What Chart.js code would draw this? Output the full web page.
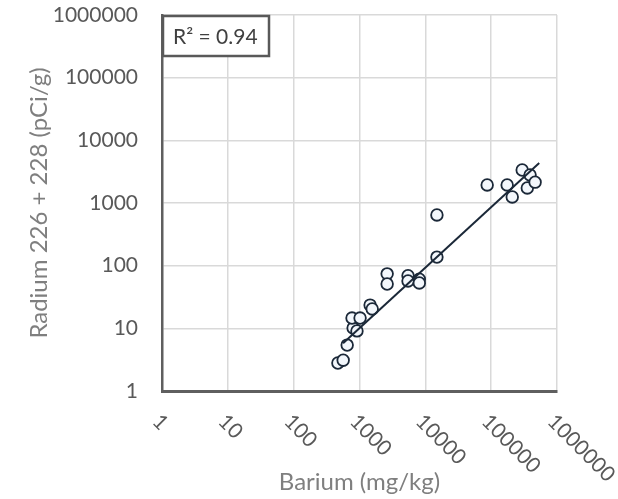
<!DOCTYPE html>
<html>
<head>
<meta charset="utf-8">
<script src="https://cdn.jsdelivr.net/npm/chart.js@4.4.1/dist/chart.umd.min.js"></script>
<style>
  html, body { margin: 0; padding: 0; background: #fff; }
  #wrap { width: 618px; height: 499px; }
</style>
</head>
<body>
<div id="wrap"><canvas id="bariumChart" width="618" height="499"></canvas></div>
<script>
// values (log-log)
const barium = [470, 565, 650, 800, 915, 770, 1020, 1450, 1560, 2630, 2630, 5460, 5460, 8100, 8100, 15000, 15000, 87000, 175000, 209000, 296000, 354000, 390000, 465000];
const radium = [2.8, 3.1, 5.4, 10.1, 9.1, 14.6, 14.6, 23.5, 20.4, 74, 51, 69, 57, 61, 53, 137, 645, 1940, 1940, 1250, 3360, 1740, 2800, 2150];
const trendBarium = [563, 537000];
const trendRadium = [5.8, 4360];
const decadeTicks = [1, 10, 100, 1000, 10000, 100000, 1000000];
const rSquared = 0.94;

const FONT = 'Lato';
const textGrey = '#595959';

// rotated x labels + R² box
const extras = {
    id: 'extras',
    afterDraw(chart) {
        const { ctx, chartArea, scales } = chart;
        const x = scales.x;
        ctx.save();
        ctx.font = '21px ' + FONT;
        ctx.fillStyle = textGrey;
        ctx.textAlign = 'left';
        ctx.textBaseline = 'middle';
        decadeTicks.forEach(v => {
            const px = x.getPixelForValue(v);
            ctx.save();
            ctx.translate(px - 6, chartArea.bottom + 27);
            ctx.rotate(Math.PI / 4);
            ctx.fillText(String(v), 0, 0);
            ctx.restore();
        });

        // R² label box
        const bx = chartArea.left + 1, by = chartArea.top + 1;
        ctx.fillStyle = '#fff';
        ctx.fillRect(bx, by, 106, 40);
        ctx.strokeStyle = '#595959';
        ctx.lineWidth = 2.5;
        ctx.strokeRect(bx, by, 106, 40);
        ctx.fillStyle = '#404040';
        ctx.font = '21px ' + FONT;
        ctx.fillText('R² = ' + rSquared.toFixed(2), bx + 10, by + 21);
        ctx.restore();
    }
};

const noPad = s => {
    s.paddingTop = 0;
    s.paddingBottom = 0;
    s.paddingLeft = 0;
    s.paddingRight = 0;
};

const ctx = document.getElementById('bariumChart').getContext('2d');
new Chart(ctx, {
    type: 'scatter',
    data: {
        datasets: [
            {
                label: 'Samples',
                data: barium.map((b, i) => ({ x: b, y: radium[i] })),
                pointRadius: 5.8,
                pointBorderWidth: 1.8,
                pointBorderColor: '#1b2838',
                pointBackgroundColor: '#f3f7fc',
                order: 2
            },
            {
                label: 'Trend',
                type: 'line',
                data: trendBarium.map((b, i) => ({ x: b, y: trendRadium[i] })),
                borderColor: '#1b2838',
                borderWidth: 2,
                pointRadius: 0,
                fill: false,
                order: 1
            }
        ]
    },
    options: {
        responsive: false,
        animation: false,
        layout: { padding: { top: 15, right: 61, left: 0, bottom: 0 } },
        plugins: {
            legend: { display: false },
            tooltip: { enabled: false }
        },
        scales: {
            x: {
                type: 'logarithmic',
                min: 1,
                max: 1000000,
                afterBuildTicks: s => { s.ticks = decadeTicks.map(v => ({ value: v })); },
                afterFit: s => { s.height = 108; noPad(s); },
                ticks: { display: false },
                grid: { color: '#d9d9d9', lineWidth: 1.5, drawTicks: false },
                border: { color: '#5f5f5f', width: 3 },
                title: {
                    display: true,
                    text: 'Barium (mg/kg)',
                    color: '#7f7f7f',
                    font: { family: FONT, size: 24 },
                    padding: { top: 0, bottom: 2 }
                }
            },
            y: {
                type: 'logarithmic',
                min: 1,
                max: 1000000,
                afterBuildTicks: s => { s.ticks = decadeTicks.map(v => ({ value: v })); },
                afterFit: s => { s.width = 162; noPad(s); },
                ticks: {
                    color: textGrey,
                    font: { family: FONT, size: 21 },
                    padding: 24,
                    callback: v => String(v)
                },
                grid: { color: '#d9d9d9', lineWidth: 1.5, drawTicks: false },
                border: { color: '#5f5f5f', width: 2.5 },
                title: {
                    display: true,
                    text: 'Radium 226 + 228 (pCi/g)',
                    color: '#7f7f7f',
                    font: { family: FONT, size: 24 },
                    padding: { top: 25, bottom: 0 }
                }
            }
        }
    },
    plugins: [extras]
});
</script>
</body>
</html>
